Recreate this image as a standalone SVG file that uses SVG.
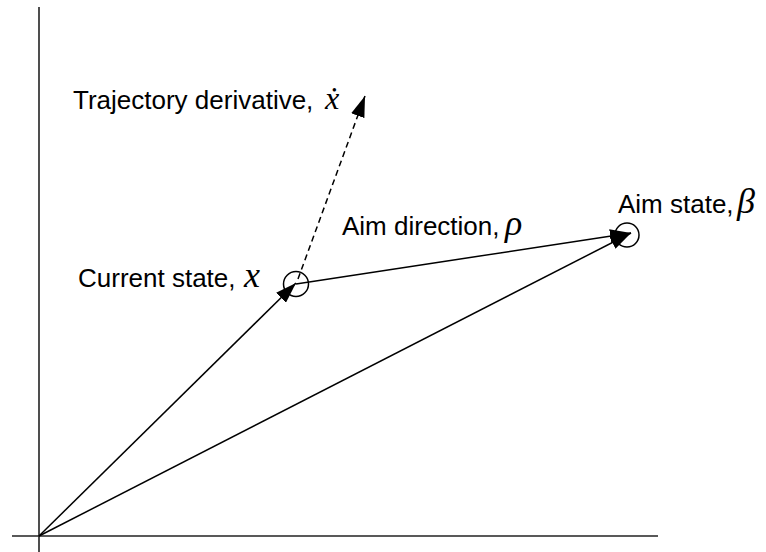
<svg xmlns="http://www.w3.org/2000/svg" width="766" height="552" viewBox="0 0 766 552">
<defs>
<style>
.lbl{font-family:"Liberation Sans",Arial,sans-serif;font-size:26px;fill:#000}
.sym{font-family:"Liberation Serif","DejaVu Serif",serif;font-style:italic;fill:#000}
.axis{stroke:#222;stroke-width:1.6;fill:none}
.ln{stroke:#000;stroke-width:1.5;fill:none}
.dash{stroke:#000;stroke-width:1.5;fill:none;stroke-dasharray:6 4}
.node{stroke:#000;stroke-width:1.5;fill:none}
</style>
<marker id="ah" viewBox="0 0 21 14" refX="21" refY="7" markerWidth="21" markerHeight="14" markerUnits="userSpaceOnUse" orient="auto">
<path d="M0,0 L21,7 L0,14 z" fill="#000"/>
</marker>
</defs>
<rect width="766" height="552" fill="#fff"/>
<g id="axes">
<line class="axis" x1="39" y1="7" x2="39" y2="552"/>
<line class="axis" x1="12" y1="536" x2="658" y2="536"/>
</g>
<g id="connectors">
<line class="ln" x1="39" y1="536" x2="296" y2="283" marker-end="url(#ah)"/>
<line class="ln" x1="39" y1="536" x2="631" y2="233" marker-end="url(#ah)"/>
<line class="ln" x1="296" y1="284" x2="631" y2="233" marker-end="url(#ah)"/>
<line class="dash" x1="298" y1="279" x2="365" y2="96" marker-end="url(#ah)"/>
</g>
<g id="current-state">
<circle class="node" cx="296" cy="284" r="12.5"/>
<text class="lbl" x="78" y="287">Current state,</text>
<text class="sym" x="244" y="287" font-size="36">x</text>
</g>
<g id="aim-state">
<circle class="node" cx="627" cy="235" r="12"/>
<text class="lbl" x="618" y="213">Aim state,</text>
<text class="sym" x="737" y="213" font-size="36">β</text>
</g>
<g id="trajectory-derivative">
<text class="lbl" x="73" y="109">Trajectory derivative,</text>
<text class="sym" x="325" y="109" font-size="32">ẋ</text>
</g>
<g id="aim-direction">
<text class="lbl" x="342" y="235">Aim direction,</text>
<text class="sym" x="505" y="235" font-size="36">ρ</text>
</g>
</svg>
